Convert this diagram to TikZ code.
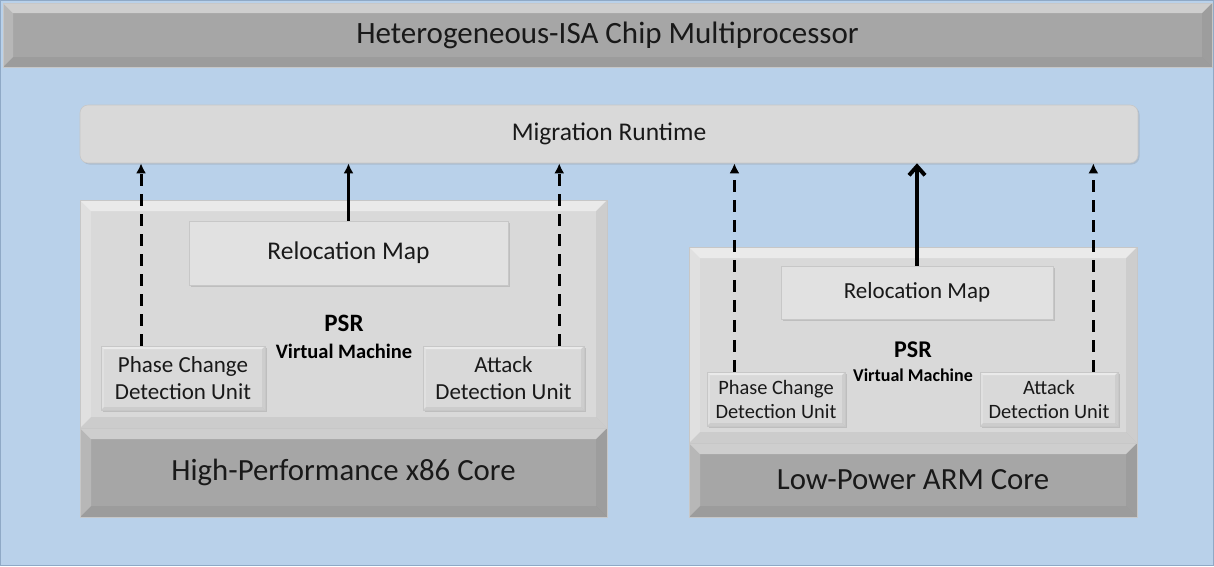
\documentclass[tikz,border=0pt]{standalone}
\usepackage{fontspec}
\setmainfont{Carlito}
\usetikzlibrary{calc,arrows.meta,shadows}

\definecolor{chipblue}{HTML}{B9D1EA}
\definecolor{chipedge}{HTML}{8FA9C6}
\definecolor{bargray}{HTML}{A6A6A6}
\definecolor{panelgray}{HTML}{D9D9D9}
\definecolor{mapgray}{HTML}{E1E1E1}

\tikzset{
  bevel/.style={path picture={
    \coordinate (bvnw) at (path picture bounding box.north west);
    \coordinate (bvne) at (path picture bounding box.north east);
    \coordinate (bvsw) at (path picture bounding box.south west);
    \coordinate (bvse) at (path picture bounding box.south east);
    \fill[white,opacity=.45] (bvnw) -- (bvne) -- ([xshift=-#1,yshift=-#1]bvne) -- ([xshift=#1,yshift=-#1]bvnw) -- cycle;
    \fill[white,opacity=.2] (bvnw) -- ([xshift=#1,yshift=-#1]bvnw) -- ([xshift=#1,yshift=#1]bvsw) -- (bvsw) -- cycle;
    \fill[black,opacity=.05] (bvne) -- (bvse) -- ([xshift=-#1,yshift=#1]bvse) -- ([xshift=-#1,yshift=-#1]bvne) -- cycle;
    \fill[black,opacity=.06] (bvsw) -- ([xshift=#1,yshift=#1]bvsw) -- ([xshift=-#1,yshift=#1]bvse) -- (bvse) -- cycle;
  }},
  block/.style={draw=black!22, line width=.6pt, inner sep=0pt, align=center, text=black!90},
  titlebar/.style={block, fill=bargray, bevel=10pt, font=\fontsize{31}{36}\selectfont},
  runtime/.style={block, fill=panelgray, rounded corners=8pt, font=\fontsize{25.5}{30}\selectfont,
    drop shadow={shadow xshift=1.5pt, shadow yshift=-1.5pt, opacity=.25}},
  vmpanel/.style={block, fill=panelgray, bevel=11pt},
  corebox/.style={block, fill=bargray, bevel=11pt, font=\fontsize{30.8}{36}\selectfont},
  mapbox/.style={block, fill=mapgray, drop shadow={shadow xshift=2pt, shadow yshift=-2pt, opacity=.3}},
  unitbox/.style={block, fill=panelgray, bevel=3pt, drop shadow={shadow xshift=2pt, shadow yshift=-2pt, opacity=.3}},
  psrtext/.style={font=\fontsize{#1}{#1}\selectfont\bfseries, inner sep=0pt},
  dasharrow/.style={line width=3pt, dash pattern=on 12pt off 8pt, -{Latex[length=10pt,width=10pt]}},
  solidarrow/.style={line width=3pt, -{Latex[length=10pt,width=10pt]}},
}

\begin{document}
\begin{tikzpicture}[x=1pt,y=-1pt]
\useasboundingbox (0,0) rectangle (1214,566);
\fill[chipblue, draw=chipedge, line width=1pt] (0.5,0.5) rectangle (1213.5,565.5);

\node[titlebar, minimum width=1209pt, minimum height=64pt] (chip) at (607.5,35) {Heterogeneous-ISA Chip Multiprocessor};
\node[runtime, minimum width=1058pt, minimum height=58pt] (mig) at (609,134) {Migration Runtime};

% high-performance core
\node[vmpanel, minimum width=527pt, minimum height=228pt] (vmL) at (343.5,314) {};
\node[corebox, minimum width=527pt, minimum height=89pt] (coreL) at (343.5,472.5) {High-Performance x86 Core};
\node[mapbox, minimum width=319pt, minimum height=64pt, font=\fontsize{25.5}{30}\selectfont] (relL) at (348.5,253) {Relocation Map};
\node[unitbox, minimum width=164pt, minimum height=64pt, font=\fontsize{23}{27}\selectfont] (phL) at (183,378) {Phase Change\\Detection Unit};
\node[unitbox, minimum width=161pt, minimum height=64pt, font=\fontsize{23}{27}\selectfont] (atL) at (503.5,378) {Attack\\Detection Unit};
\node[psrtext=25] (psrL) at (344,323) {PSR};
\node[psrtext=20.5] (vmtL) at (344,351) {Virtual Machine};

% low-power core
\node[vmpanel, minimum width=448pt, minimum height=196pt] (vmR) at (913,345) {};
\node[corebox, minimum width=448pt, minimum height=74pt] (coreR) at (913,480) {Low-Power ARM Core};
\node[mapbox, minimum width=272pt, minimum height=53pt, font=\fontsize{23}{27}\selectfont] (relR) at (917,292.5) {Relocation Map};
\node[unitbox, minimum width=138pt, minimum height=54pt, font=\fontsize{20.4}{24}\selectfont] (phR) at (776,399) {Phase Change\\Detection Unit};
\node[unitbox, minimum width=138pt, minimum height=54pt, font=\fontsize{20.4}{24}\selectfont] (atR) at (1049,399) {Attack\\Detection Unit};
\node[psrtext=24] (psrR) at (913,350) {PSR};
\node[psrtext=18] (vmtR) at (913,375) {Virtual Machine};

% links to the runtime
\draw[dasharrow] ($(phL.north west)!.245!(phL.north east)$) coordinate (pL) -- (pL |- mig.south);
\draw[solidarrow] (relL.north) -- (relL.north |- mig.south);
\draw[dasharrow] ($(atL.north west)!.845!(atL.north east)$) coordinate (aL) -- (aL |- mig.south);
\draw[dasharrow] ($(phR.north west)!.2!(phR.north east)$) coordinate (pR) -- (pR |- mig.south);
\draw[line width=4pt, -{Straight Barb[length=9pt,width=16pt]}] (relR.north) -- (relR.north |- mig.south);
\draw[dasharrow] ($(atR.north west)!.82!(atR.north east)$) coordinate (aR) -- (aR |- mig.south);
\end{tikzpicture}
\end{document}
